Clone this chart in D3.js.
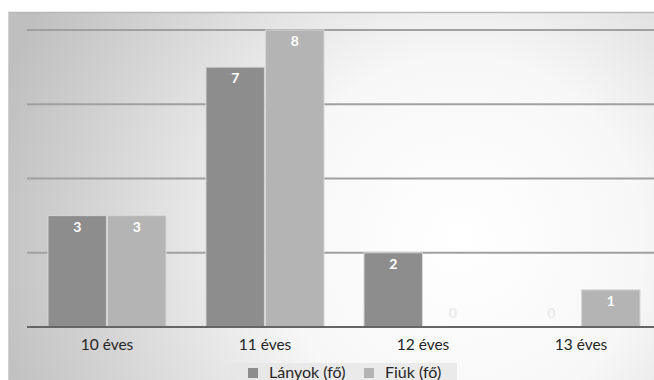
<!DOCTYPE html>
<html>
<head>
<meta charset="utf-8">
<script src="https://cdn.jsdelivr.net/npm/d3@7"></script>
<style>
  html, body { margin: 0; padding: 0; background: #ffffff; }
  svg { display: block; }
  text { font-family: Lato, "Open Sans", sans-serif; }
</style>
</head>
<body>
<svg id="chart" width="654" height="380"></svg>
<script>
// Age groups and head counts per group
const categories = ["10 éves", "11 éves", "12 éves", "13 éves"];
const seriesNames = ["Lányok (fő)", "Fiúk (fő)"];
const lanyok = [3, 7, 2, 0];
const fiuk = [3, 8, 0, 1];
const gridTicks = [0, 2, 4, 6, 8];
const seriesColors = ["#8d8d8d", "#b4b4b4"];

const svg = d3.select("#chart");
const W = 654, H = 380;

// Soft radial backdrop of the chart frame
const defs = svg.append("defs");
const grad = defs.append("radialGradient")
  .attr("id", "bg").attr("gradientUnits", "userSpaceOnUse")
  .attr("cx", 460).attr("cy", 240).attr("r", 480);
grad.append("stop").attr("offset", "0%").attr("stop-color", "#ffffff");
grad.append("stop").attr("offset", "38%").attr("stop-color", "#f7f7f7");
grad.append("stop").attr("offset", "100%").attr("stop-color", "#bfbfbf");

svg.append("rect").attr("x", 8).attr("y", 12).attr("width", W - 8).attr("height", H - 12)
  .attr("fill", "url(#bg)");
svg.append("line").attr("x1", 8).attr("x2", W).attr("y1", 12.5).attr("y2", 12.5)
  .attr("stroke", "#b8b8b8").attr("stroke-width", 1.5);
svg.append("line").attr("x1", 8.5).attr("x2", 8.5).attr("y1", 12).attr("y2", H)
  .attr("stroke", "#d0d0d0").attr("stroke-width", 1);

// Scales
const x0 = d3.scaleBand().domain(categories).range([28, 660])
  .paddingInner(0.253).paddingOuter(0.1265);
const x1 = d3.scaleBand().domain(seriesNames).range([0, x0.bandwidth()]).paddingInner(0.02);
const y = d3.scaleLinear().domain([0, 8]).range([327, 30]);

// Horizontal gridlines
svg.append("g").selectAll("line").data(gridTicks.filter(t => t > 0)).join("line")
  .attr("x1", 27).attr("x2", W)
  .attr("y1", d => y(d)).attr("y2", d => y(d))
  .attr("stroke", "#a0a0a0").attr("stroke-width", 2);

// Bars
const rows = categories.map((c, i) => ({ cat: c, vals: [lanyok[i], fiuk[i]] }));
const groups = svg.append("g").selectAll("g").data(rows).join("g")
  .attr("transform", d => `translate(${x0(d.cat)},0)`);

groups.selectAll("rect").data(d => d.vals.map((v, j) => ({ v, s: seriesNames[j], j })))
  .join("rect")
  .filter(d => d.v > 0)
  .attr("x", d => x1(d.s)).attr("width", x1.bandwidth())
  .attr("y", d => y(d.v)).attr("height", d => y(0) - y(d.v))
  .attr("fill", d => seriesColors[d.j])
  .attr("stroke", "#d6d6d6").attr("stroke-width", 1);

// Value labels
groups.selectAll("text").data(d => d.vals.map((v, j) => ({ v, s: seriesNames[j], j })))
  .join("text")
  .attr("x", d => x1(d.s) + x1.bandwidth() / 2)
  .attr("y", d => d.v > 0 ? y(d.v) + 16 : y(0) - 9)
  .attr("text-anchor", "middle")
  .attr("font-size", 14).attr("font-weight", "bold")
  .attr("fill", d => d.v > 0 ? "#ffffff" : "#e9e9e9")
  .text(d => d.v);

// Baseline axis with category labels
const xAxis = svg.append("g").attr("transform", `translate(0,${y(0)})`)
  .call(d3.axisBottom(x0).tickSize(0).tickPadding(12));
xAxis.select(".domain").remove();
xAxis.selectAll("text").attr("font-size", 15.5).attr("fill", "#262626")
  .attr("font-family", "Lato, 'Open Sans', sans-serif");
svg.append("line").attr("x1", 27).attr("x2", W).attr("y1", y(0)).attr("y2", y(0))
  .attr("stroke", "#656565").attr("stroke-width", 2);

// Legend
const legend = svg.append("g");
legend.append("rect").attr("x", 230).attr("y", 363).attr("width", 227).attr("height", 17)
  .attr("fill", "#e6e6e6").attr("opacity", 0.8);
const legendX = [248, 364];
const li = legend.selectAll("g").data(seriesNames).join("g")
  .attr("transform", (d, i) => `translate(${legendX[i]},0)`);
li.append("rect").attr("x", 0).attr("y", 368).attr("width", 10).attr("height", 10)
  .attr("fill", (d, i) => seriesColors[i]);
li.append("text").attr("x", 21).attr("y", 378)
  .attr("font-size", 16).attr("fill", "#262626").text(d => d);
</script>
</body>
</html>
